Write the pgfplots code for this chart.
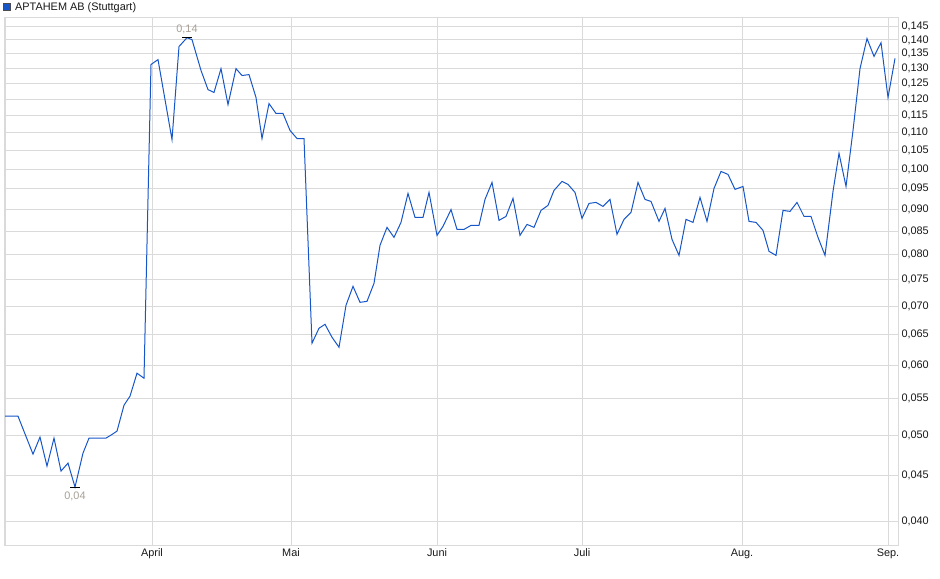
\documentclass[border=0pt]{standalone}
\usepackage{fontspec}
\setmainfont{Liberation Sans}
\usepackage{pgfplots}
\pgfplotsset{compat=1.18}
\definecolor{linec}{RGB}{22,86,200}
\definecolor{gridc}{RGB}{218,218,218}
\definecolor{annc}{RGB}{168,160,150}
\begin{document}
\begin{tikzpicture}
\useasboundingbox (-4bp,-34bp) rectangle (936bp,545bp);
\begin{axis}[
  at={(0,0)}, anchor=south west, scale only axis,
  width=894bp, height=528bp,
  xmin=4, xmax=898,
  ymode=log, ymin=0.03758, ymax=0.1486,
  axis line style={gridc},
  grid=major, major grid style={gridc, line width=0.8bp},
  xtick={152,291,437,582,742,888},
  xticklabels={April,Mai,Juni,Juli,Aug.,Sep.},
  extra x ticks={5}, extra x tick labels={}, extra x tick style={grid=major},
  ytick={0.040,0.045,0.050,0.055,0.060,0.065,0.070,0.075,0.080,0.085,0.090,0.095,0.100,0.105,0.110,0.115,0.120,0.125,0.130,0.135,0.140,0.145},
  yticklabels={{0,040},{0,045},{0,050},{0,055},{0,060},{0,065},{0,070},{0,075},{0,080},{0,085},{0,090},{0,095},{0,100},{0,105},{0,110},{0,115},{0,120},{0,125},{0,130},{0,135},{0,140},{0,145}},
  yticklabel pos=right,
  major tick length=0pt,
  /pgf/number format/assume math mode=true,
  ticklabel style={font=\fontsize{10.9bp}{12bp}\selectfont, text=black!90},
  clip=false,
]
\addplot[linec, line width=1bp, mark=none] coordinates {
(5,0.05256) (18,0.05256) (33,0.04761) (40,0.04977) (47,0.04615) (54,0.04964)
(61,0.04556) (68,0.04651) (75,0.04370) (83,0.04774) (89,0.04964) (106,0.04964)
(111,0.05003) (117,0.05055) (124,0.05408) (130,0.05537) (137,0.05878) (144,0.05802)
(151,0.1313) (158,0.1330) (172,0.1080) (179,0.1376) (187,0.1408) (192,0.1401)
(201,0.1293) (208,0.1230) (214,0.1221) (221,0.1299) (228,0.1183) (236,0.1299)
(242,0.1276) (249,0.1279) (256,0.1205) (262,0.1083) (269,0.1186) (276,0.1156)
(283,0.1156) (290,0.1106) (297,0.1083) (304,0.1083) (312,0.06355) (319,0.06608)
(325,0.06677) (332,0.06455) (339,0.06289) (346,0.07015) (353,0.07371) (360,0.07070)
(367,0.07088) (374,0.07428) (380,0.0820) (387,0.08593) (394,0.08372) (401,0.08705)
(408,0.09387) (415,0.08819) (423,0.08819) (429,0.09412) (437,0.08416) (443,0.08615)
(451,0.0900) (457,0.08548) (464,0.08548) (471,0.08638) (479,0.08638) (485,0.09242)
(492,0.09660) (499,0.08751) (506,0.08842) (513,0.09266) (520,0.08416) (527,0.08660)
(534,0.08593) (541,0.08981) (548,0.09099) (554,0.09461) (562,0.09685) (568,0.09610)
(575,0.09412) (582,0.08796) (589,0.09146) (596,0.09170) (603,0.09075) (610,0.09242)
(617,0.08438) (624,0.08774) (631,0.08935) (638,0.09660) (645,0.09242) (651,0.09194)
(659,0.08728) (665,0.09028) (672,0.08329) (679,0.0799) (686,0.08774) (693,0.08705)
(700,0.09290) (707,0.08728) (714,0.09510) (721,0.09940) (728,0.09863) (735,0.09486)
(743,0.09560) (749,0.08728) (756,0.08705) (763,0.08526) (769,0.08073) (776,0.0799)
(783,0.08981) (790,0.08958) (797,0.09170) (804,0.08842) (811,0.08842) (818,0.08372)
(825,0.0799) (833,0.09437) (839,0.1042) (846,0.0956) (853,0.1106) (860,0.1299)
(867,0.1405) (874,0.1341) (881,0.1390) (888,0.1205) (895,0.1334)
};
\draw[black, line width=1bp] ([xshift=-5bp]axis cs:187,0.1408) -- ([xshift=5bp]axis cs:187,0.1408);
\node[annc, above, inner sep=2.5bp, yshift=1.5bp, font=\fontsize{10.9bp}{12bp}\selectfont] at (axis cs:187,0.1408) {0,14};
\draw[black, line width=1bp] ([xshift=-5bp]axis cs:75,0.0437) -- ([xshift=5bp]axis cs:75,0.0437);
\node[annc, below, inner sep=2.5bp, yshift=-2.5bp, font=\fontsize{10.9bp}{12bp}\selectfont] at (axis cs:75,0.0437) {0,04};
\end{axis}
\filldraw[fill=linec, draw=black!70, line width=0.6bp] (-1bp,535bp) rectangle (6bp,542bp);
\node[anchor=base west, inner sep=0pt, text=black!90, font=\fontsize{10.9bp}{12bp}\selectfont] at (11bp,534.5bp) {APTAHEM AB (Stuttgart)};
\end{tikzpicture}
\end{document}
